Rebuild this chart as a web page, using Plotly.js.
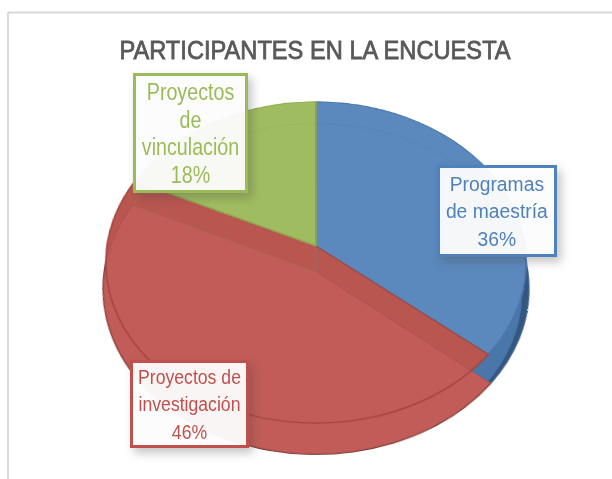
<!DOCTYPE html>
<html>
<head>
<meta charset="utf-8">
<script src="https://cdn.plot.ly/plotly-3.0.1.min.js"></script>
<style>
html,body{margin:0;padding:0;background:#fff;width:612px;height:479px;overflow:hidden}
#wrap{position:relative;width:612px;height:479px;overflow:hidden}
#pie{position:absolute;left:10px;top:-54px;width:612px;height:640px;transform-origin:306px 300px;transform:perspective(1321px) rotateX(40.5deg)}
#top{position:absolute;left:0;top:0;width:612px;height:479px}
.annotation rect.bg{filter:drop-shadow(4px 5px 5px rgba(70,70,70,.33))}
</style>
</head>
<body>
<div id="wrap"><div id="pie"></div><div id="top"></div></div>
<script>
// Data
const chartTitle = 'PARTICIPANTES EN LA ENCUESTA';
const categories = ['Programas de maestría', 'Proyectos de investigación', 'Proyectos de vinculación'];
const shares = [36, 46, 18];
const labelLines = [['Programas', 'de maestría'], ['Proyectos de', 'investigación'], ['Proyectos', 'de', 'vinculación']];

// Colours
const CLEAR = 'rgba(0,0,0,0)';
const textColors = ['#4f81bd', '#c0504d', '#9bbb59'];
const topFill = ['#5b89bd', '#b9564f', '#a0bc60'];
const topEdge = ['#4a78ae', '#a5463f', '#8fae52'];

// Pie plane (before the tilt)
const W = 612, H = 640, CX = 306, CY = 300, R = 209, DEPTH = 33;

function layer(dx, dy, r, colors, lineColors, lineWidth) {
  return {
    type: 'pie', values: shares, labels: categories, sort: false, direction: 'clockwise', rotation: 0,
    textinfo: 'none', hoverinfo: 'skip', showlegend: false,
    domain: {
      x: [(CX + dx - r) / W, (CX + dx + r) / W],
      y: [1 - (CY + dy + r) / H, 1 - (CY + dy - r) / H]
    },
    marker: {colors: colors, line: {color: lineColors, width: lineWidth}}
  };
}
const none3 = [CLEAR, CLEAR, CLEAR];
const pieTraces = [
  layer(0, DEPTH, R, ['#34567f', '#6f3532', '#6f8440'], none3, 0),
  layer(0, DEPTH + 7, R - 8, ['#4a76aa', '#c05a56', '#8aa552'], none3, 0),
  layer(0, 0, R, topFill, topEdge, 1),
  layer(0, DEPTH, R - 1, [CLEAR, '#c25c58', CLEAR], ['rgba(70,115,165,.35)', 'rgba(168,72,66,.55)', 'rgba(130,160,80,.3)'], 1),
  layer(0, 0, R, none3, topEdge, 1.5)
];
Plotly.newPlot('pie', pieTraces, {
  width: W, height: H, margin: {l: 0, r: 0, t: 0, b: 0, pad: 0},
  paper_bgcolor: 'rgba(0,0,0,0)', plot_bgcolor: 'rgba(0,0,0,0)'
}, {staticPlot: true, displayModeBar: false});

// Overlay: title, frame and label boxes
const PW = 612, PH = 479;
const px = v => v / PW, py = v => 1 - v / PH;
const FONT = '"Liberation Sans",Arial,sans-serif';
const TITLE_WIDTH = 392;
const boxes = [
  {x0: 437, x1: 557, y0: 165, y1: 257, size: 21, squeeze: 0.92},
  {x0: 130, x1: 249, y0: 360, y1: 448, size: 21, squeeze: 0.84},
  {x0: 133, x1: 248, y0: 73, y1: 193, size: 24, squeeze: 0.82}
];
const annotations = categories.map((c, i) => {
  const b = boxes[i];
  return {
    xref: 'paper', yref: 'paper', x: px((b.x0 + b.x1) / 2), y: py((b.y0 + b.y1) / 2),
    xanchor: 'center', yanchor: 'middle', align: 'center', valign: 'middle',
    width: b.x1 - b.x0 - 6, height: b.y1 - b.y0 - 6, borderpad: 0, borderwidth: 3,
    bordercolor: textColors[i], bgcolor: 'rgba(255,255,255,.94)', showarrow: false,
    text: labelLines[i].concat(shares[i] + '%').join('<br>'),
    font: {family: FONT, size: b.size, color: textColors[i]}
  };
});
const frame = {color: '#d9d9d9', width: 2};
function squeeze(t, k, dy) {
  const b = t.getBBox(), c = b.x + b.width / 2;
  t.setAttribute('transform', 'translate(' + c + ',' + dy + ') scale(' + k + ',1) translate(' + (-c) + ',0)');
}
Plotly.newPlot('top', [], {
  width: PW, height: PH, margin: {l: 0, r: 0, t: 0, b: 0},
  paper_bgcolor: 'rgba(0,0,0,0)', plot_bgcolor: 'rgba(0,0,0,0)',
  xaxis: {visible: false}, yaxis: {visible: false},
  title: {text: chartTitle, x: px(315), y: py(50), xanchor: 'center', yanchor: 'middle',
    font: {family: FONT, size: 26, color: '#595959'}},
  annotations: annotations,
  shapes: [
    {type: 'line', xref: 'paper', yref: 'paper', x0: px(8), x1: 1, y0: py(12.5), y1: py(12.5), line: frame},
    {type: 'line', xref: 'paper', yref: 'paper', x0: px(8), x1: px(8), y0: py(12.5), y1: 0, line: frame}
  ]
}, {staticPlot: true, displayModeBar: false}).then(() => {
  document.querySelectorAll('#top .annotation').forEach((g, n) => {
    const t = g.querySelector('text');
    t.removeAttribute('clip-path');
    t.parentNode.removeAttribute('clip-path');
    g.querySelectorAll('[clip-path]').forEach(e => e.removeAttribute('clip-path'));
    if (n === 2) {
      // tighter line spacing of the larger green label
      t.querySelectorAll('tspan.line').forEach((s, i) => {
        if (i > 0) s.setAttribute('dy', (i * 1.16) + 'em');
      });
    }
    squeeze(t, boxes[n].squeeze, n === 2 ? 5 : 0);
  });
  const tt = document.querySelector('#top .gtitle');
  if (tt) {
    tt.style.stroke = '#595959';
    tt.style.strokeWidth = '0.8px';
    squeeze(tt, TITLE_WIDTH / tt.getBBox().width, 0);
  }
});
</script>
</body>
</html>
